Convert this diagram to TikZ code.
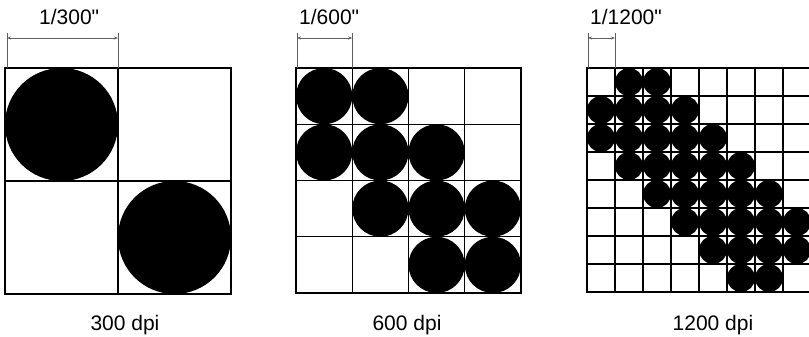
\documentclass[tikz,border=0pt]{standalone}
\usepackage{fontspec}
\newfontfamily\labelfont{Liberation Sans}
\usetikzlibrary{arrows.meta}
\definecolor{dimgray}{RGB}{95, 95, 95}

\tikzset{
  frame/.style={line width=2.6pt},
  cellline/.style={line width=1.3pt},
  dot/.style={fill=black},
  extline/.style={line width=0.8pt, dimgray},
  dimline/.style={line width=0.8pt, dimgray, {Stealth[length=4pt,width=3pt]}-{Stealth[length=4pt,width=3pt]}},
  lbl/.style={font=\labelfont\fontsize{21}{24}\selectfont, inner sep=0pt},
}

\begin{document}
\begin{tikzpicture}[x=1pt, y=-1pt]
  \useasboundingbox (0,0) rectangle (809,337);
  \clip (0,0) rectangle (809,337);

  % 300 dpi: 2 x 2 cells
  \foreach \c/\r in {0/0, 1/1}
    \fill[dot] (5+113*\c+56.5, 68+113*\r+56.5) circle (56.5pt);
  \draw[cellline] (118,68) -- (118,294);
  \draw[cellline] (5,181) -- (231,181);
  \draw[frame] (5,68) rectangle (231,294);
  \coordinate (a1) at (7,68);
  \coordinate (a2) at (118,68);
  \draw[extline] (a1) -- ++(0,-35) coordinate (a1t);
  \draw[extline] (a2) -- ++(0,-35) coordinate (a2t);
  \draw[dimline] ([yshift=-5pt]a1t) -- ([yshift=-5pt]a2t);
  \node[lbl, anchor=base west] (top300) at (39,25) {1/300"};
  \node[lbl, anchor=base] (dpi300) at (125,330) {300 dpi};

  % 600 dpi: 4 x 4 cells
  \foreach \c/\r in {0/0, 1/0, 0/1, 1/1, 2/1, 1/2, 2/2, 3/2, 2/3, 3/3}
    \fill[dot] (296+56.25*\c+28.125, 68+56.25*\r+28.125) circle (28.1pt);
  \foreach \i in {1,2,3} {
    \draw[cellline] (296+56.25*\i,68) -- (296+56.25*\i,293);
    \draw[cellline] (296,68+56.25*\i) -- (521,68+56.25*\i);
  }
  \draw[frame] (296,68) rectangle (521,293);
  \coordinate (b1) at (297,68);
  \coordinate (b2) at (352.25,68);
  \draw[extline] (b1) -- ++(0,-35) coordinate (b1t);
  \draw[extline] (b2) -- ++(0,-35) coordinate (b2t);
  \draw[dimline] ([yshift=-5pt]b1t) -- ([yshift=-5pt]b2t);
  \node[lbl, anchor=base west] (top600) at (299,25) {1/600"};
  \node[lbl, anchor=base] (dpi600) at (407,330) {600 dpi};

  % 1200 dpi: 8 x 8 cells, cut at the right edge
  \foreach \r/\cols in {0/{1,2}, 1/{0,1,2,3}, 2/{0,1,2,3,4}, 3/{1,2,3,4,5},
                        4/{2,3,4,5,6}, 5/{3,4,5,6,7}, 6/{4,5,6,7}, 7/{5,6}}
    \foreach \c in \cols
      \fill[dot] (587+28*\c+14, 68+28*\r+14) circle (14pt);
  \foreach \i in {1,...,7} {
    \draw[cellline] (587+28*\i,68) -- (587+28*\i,292);
    \draw[cellline] (587,68+28*\i) -- (811,68+28*\i);
  }
  \draw[frame] (587,68) rectangle (811,292);
  \coordinate (c1) at (588,68);
  \coordinate (c2) at (615,68);
  \draw[extline] (c1) -- ++(0,-35) coordinate (c1t);
  \draw[extline] (c2) -- ++(0,-35) coordinate (c2t);
  \draw[dimline] ([yshift=-5pt]c1t) -- ([yshift=-5pt]c2t);
  \node[lbl, anchor=base west] (top1200) at (590,25) {1/1200"};
  \node[lbl, anchor=base] (dpi1200) at (713,330) {1200 dpi};
\end{tikzpicture}
\end{document}
